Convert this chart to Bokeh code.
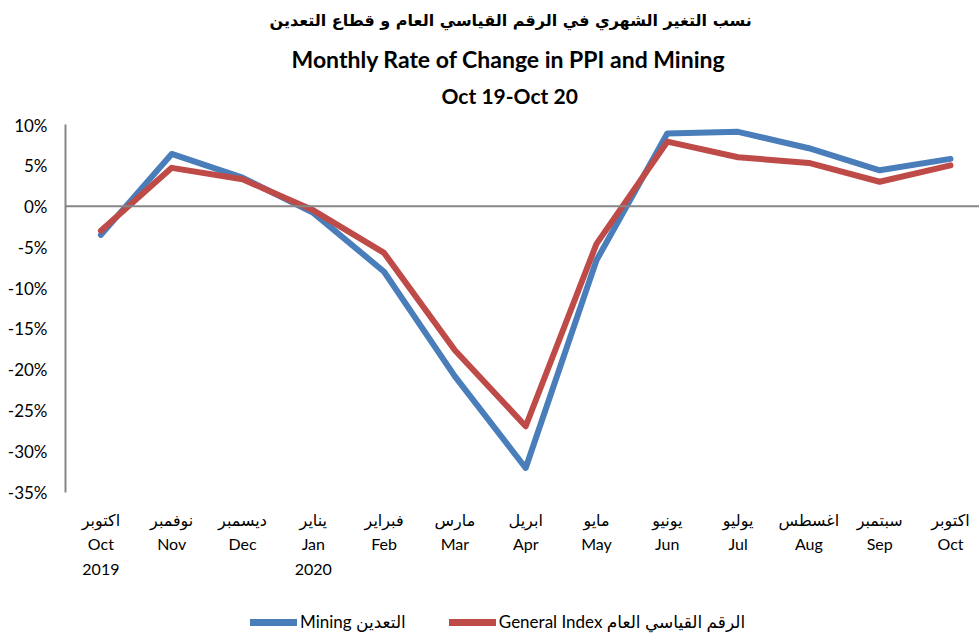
from bokeh.plotting import figure
from bokeh.layouts import column
from bokeh.models import (Range1d, FixedTicker, PrintfTickFormatter, Span, Legend,
                          LegendItem, Title, ColumnDataSource)
from bokeh.embed import file_html
from bokeh.resources import INLINE

months_ar = ["اكتوبر", "نوفمبر", "ديسمبر", "يناير", "فبراير", "مارس", "ابريل",
             "مايو", "يونيو", "يوليو", "اغسطس", "سبتمبر", "اكتوبر"]
months_en = ["Oct", "Nov", "Dec", "Jan", "Feb", "Mar", "Apr", "May", "Jun",
             "Jul", "Aug", "Sep", "Oct"]
years = ["2019", "", "", "2020", "", "", "", "", "", "", "", "", ""]

mining = [-3.5, 6.4, 3.5, -0.8, -8.0, -20.8, -32.0, -6.6, 8.9, 9.1, 7.1, 4.4, 5.8]
general = [-3.0, 4.7, 3.3, -0.5, -5.7, -17.6, -26.9, -4.6, 7.9, 6.0, 5.3, 3.0, 5.0]
y_ticks = [10, 5, 0, -5, -10, -15, -20, -25, -30, -35]

title_ar = "نسب التغير الشهري في الرقم القياسي العام و قطاع التعدين"
title_en = "Monthly Rate of Change in PPI and Mining"
title_period = "Oct 19-Oct 20"

FONT = "Lato, 'DejaVu Sans', sans-serif"
BLUE = "#4A7EBB"
RED = "#BE4B48"
GRAY = "#868686"
W = 979

x = list(range(len(months_en)))
src = ColumnDataSource(dict(x=x, mining=mining, general=general))

# ---------- title block ----------
tf = figure(width=W, height=114, output_backend="svg", toolbar_location=None,
            x_axis_location=None, y_axis_location=None,
            min_border_left=65, min_border_right=0, min_border_top=0, min_border_bottom=0)
tf.outline_line_color = None
tf.grid.visible = False
for txt, font, size, so, off in [(title_period, FONT, "21px", 14, 376),
                                 (title_en, FONT, "23px", 2, 226),
                                 (title_ar, "'DejaVu Sans', sans-serif", "16px", 24, 204)]:
    tf.add_layout(Title(text=txt, align="left", offset=off, text_font=font,
                        text_font_size=size, text_font_style="bold",
                        text_color="black", standoff=so), "above")

# ---------- main chart ----------
p = figure(width=W, height=486, x_range=Range1d(-0.5, 12.41), y_range=Range1d(-35, 10),
           output_backend="svg", toolbar_location=None,
           min_border_left=65, min_border_right=0, min_border_top=10, min_border_bottom=108)
p.outline_line_color = None
p.grid.visible = False

p.add_layout(Span(location=0, dimension="width", line_color=GRAY, line_width=2))

r_mining = p.line("x", "mining", source=src, line_color=BLUE, line_width=6,
                  line_join="round", line_cap="round")
r_general = p.line("x", "general", source=src, line_color=RED, line_width=6,
                   line_join="round", line_cap="round")

p.yaxis.ticker = FixedTicker(ticks=y_ticks)
p.yaxis.formatter = PrintfTickFormatter(format="%d%%")
p.yaxis.axis_line_color = GRAY
p.yaxis.axis_line_width = 2
p.yaxis.major_tick_line_color = None
p.yaxis.minor_tick_line_color = None
p.yaxis.major_tick_out = 0
p.yaxis.major_label_standoff = 18
p.yaxis.major_label_text_font = FONT
p.yaxis.major_label_text_font_size = "17px"
p.yaxis.major_label_text_color = "black"

p.xaxis.ticker = FixedTicker(ticks=x)
labels = {}
for i in x:
    parts = [months_ar[i], months_en[i]] + ([years[i]] if years[i] else [])
    labels[i] = "\n".join(parts)
p.xaxis.major_label_overrides = labels
p.xaxis.axis_line_color = None
p.xaxis.major_tick_line_color = None
p.xaxis.minor_tick_line_color = None
p.xaxis.major_tick_out = 0
p.xaxis.major_label_standoff = 17
p.xaxis.major_label_text_font = FONT
p.xaxis.major_label_text_font_size = "16px"
p.xaxis.major_label_text_color = "black"
p.xaxis.major_label_text_line_height = 1.3

# ---------- legend strip ----------
lf = figure(width=W, height=35, x_range=Range1d(-0.5, 12.41), y_range=Range1d(100, 200),
            output_backend="svg", toolbar_location=None,
            x_axis_location=None, y_axis_location=None,
            min_border_left=65, min_border_right=0, min_border_top=0, min_border_bottom=0)
lf.outline_line_color = None
lf.grid.visible = False
lm = lf.line("x", "mining", source=src, line_color=BLUE, line_width=7, line_cap="round")
lg = lf.line("x", "general", source=src, line_color=RED, line_width=7, line_cap="round")
legend = Legend(items=[LegendItem(label="Mining التعدين", renderers=[lm]),
                       LegendItem(label="General Index الرقم القياسي العام", renderers=[lg])],
                orientation="horizontal", location=(185, 3), border_line_color=None,
                background_fill_alpha=0, glyph_width=47, glyph_height=18,
                label_text_font=FONT, label_text_font_size="17px", label_text_color="black",
                spacing=43, label_standoff=3, margin=0, padding=2)
lf.add_layout(legend, "center")

layout = column(tf, p, lf, spacing=0)
open("out.html", "w").write(file_html(layout, INLINE))
